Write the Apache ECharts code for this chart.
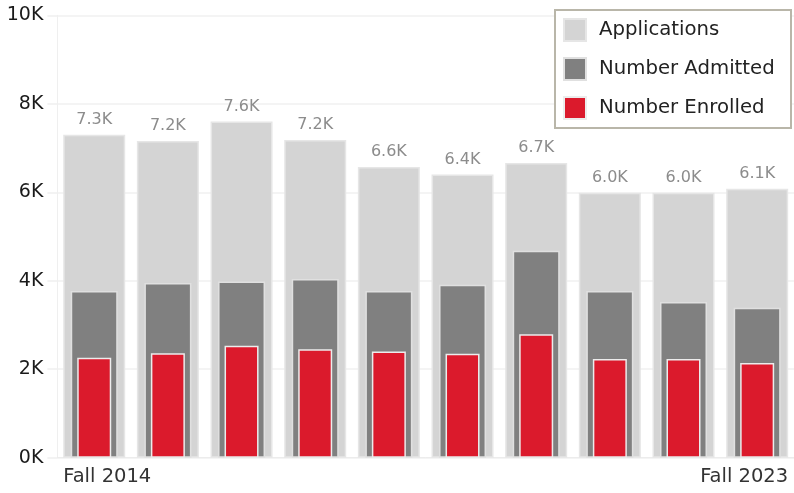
<!DOCTYPE html>
<html>
<head>
<meta charset="utf-8">
<script src="https://cdn.jsdelivr.net/npm/echarts@6/dist/echarts.min.js"></script>
<style>
html,body{margin:0;padding:0;background:#fff;}
#chart{width:794px;height:493px;}
</style>
</head>
<body>
<div id="chart"></div>
<script>
var categories = ['Fall 2014','Fall 2015','Fall 2016','Fall 2017','Fall 2018','Fall 2019','Fall 2020','Fall 2021','Fall 2022','Fall 2023'];
var applications = [7300, 7160, 7600, 7180, 6570, 6400, 6660, 5990, 5990, 6080];
var admitted = [3770, 3950, 3980, 4040, 3770, 3910, 4680, 3770, 3520, 3390];
var enrolled = [2260, 2360, 2530, 2450, 2400, 2350, 2790, 2230, 2230, 2140];
var yTicks = [0, 2000, 4000, 6000, 8000, 10000];

var FONT = 'DejaVu Sans';
var chart = echarts.init(document.getElementById('chart'), null, {renderer: 'canvas'});

function hiddenX() {
  return {type: 'category', data: categories, show: false, boundaryGap: true};
}

var option = {
  animation: false,
  backgroundColor: '#ffffff',
  textStyle: {fontFamily: FONT},
  grid: {left: 57.4, top: 15.3, width: 738.8, height: 442.4, containLabel: false},
  legend: {
    orient: 'vertical',
    left: 555,
    top: 10,
    icon: 'rect',
    itemWidth: 22,
    itemHeight: 22,
    itemGap: 15,
    padding: [8, 10, 8, 8],
    borderColor: '#b9b6a9',
    borderWidth: 2,
    backgroundColor: '#ffffff',
    textStyle: {fontFamily: FONT, fontSize: 19.7, lineHeight: 22, color: '#222222', padding: [0, 0, 0, 8], width: 182},
    data: ['Applications', 'Number Admitted', 'Number Enrolled']
  },
  xAxis: [
    {
      type: 'category',
      data: categories,
      boundaryGap: true,
      axisLine: {show: true, lineStyle: {color: '#ececec', width: 1}},
      axisTick: {show: false},
      splitLine: {show: false},
      axisLabel: {
        interval: function (i) { return i === 0 || i === categories.length - 1; },
        margin: 9,
        fontFamily: FONT,
        fontSize: 19.5,
        color: '#333333',
        formatter: function (v, i) { return i === 0 ? '{l|' + v + '}' : '{r|' + v + '}'; },
        rich: {
          l: {width: 62, align: 'left', fontFamily: FONT, fontSize: 19.5, color: '#333333'},
          r: {width: 62, align: 'right', fontFamily: FONT, fontSize: 19.5, color: '#333333'}
        }
      }
    },
    hiddenX(),
    hiddenX()
  ],
  yAxis: {
    type: 'value',
    min: 0,
    max: 10000,
    interval: 2000,
    axisLine: {show: true, lineStyle: {color: '#efefef', width: 1}},
    axisTick: {show: true, length: 10, lineStyle: {color: '#efefef', width: 1.5}},
    splitLine: {show: true, lineStyle: {color: '#f0f0f0', width: 1.5}},
    axisLabel: {
      margin: 14,
      fontFamily: FONT,
      fontSize: 19,
      color: '#1a1a1a',
      formatter: function (v) { return yTicks.indexOf(v) >= 0 ? (v / 1000) + 'K' : ''; }
    }
  },
  series: [
    {
      name: 'Applications',
      type: 'bar',
      xAxisIndex: 0,
      data: applications,
      barWidth: 62,
      z: 2,
      itemStyle: {color: '#d4d4d4', borderColor: '#e6e6e6', borderWidth: 1.5},
      label: {
        show: true,
        position: 'top',
        distance: 7,
        fontFamily: FONT,
        fontSize: 16,
        color: '#8c8c8c',
        formatter: function (p) { return (Math.round(p.value / 100) / 10).toFixed(1) + 'K'; }
      }
    },
    {
      name: 'Number Admitted',
      type: 'bar',
      xAxisIndex: 1,
      data: admitted,
      barWidth: 47,
      z: 3,
      itemStyle: {color: '#808080', borderColor: '#e0e0e0', borderWidth: 1.5}
    },
    {
      name: 'Number Enrolled',
      type: 'bar',
      xAxisIndex: 2,
      data: enrolled,
      barWidth: 34,
      z: 4,
      itemStyle: {color: '#db1a2c', borderColor: '#ececec', borderWidth: 1.5}
    }
  ]
};
chart.setOption(option);
</script>
</body>
</html>
